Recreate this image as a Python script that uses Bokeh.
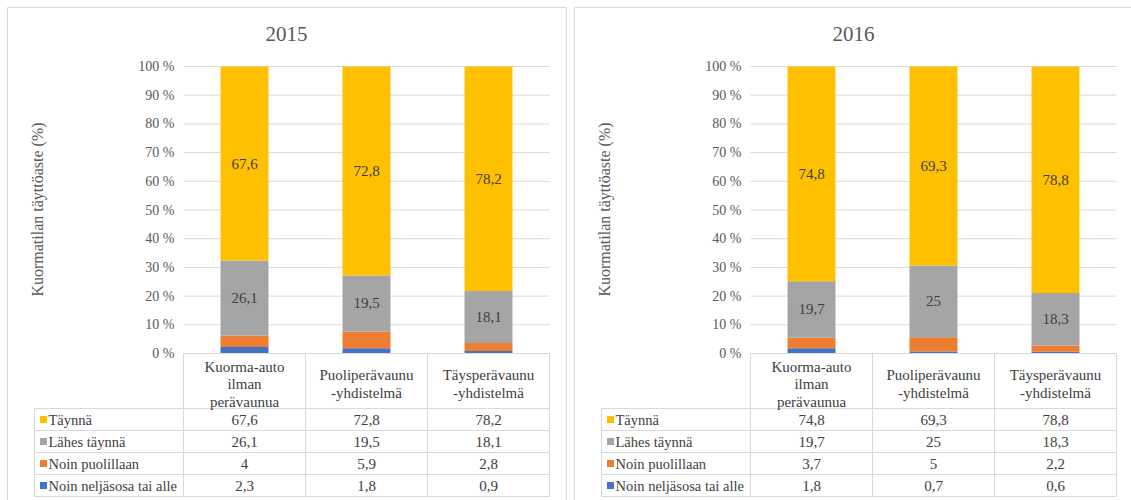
import math
from bokeh.plotting import figure
from bokeh.layouts import row
from bokeh.models import ColumnDataSource, Range1d
from bokeh.embed import file_html
from bokeh.resources import INLINE
from bokeh.core.properties import value

# ---- data ---------------------------------------------------------------
categories = ["Kuorma-auto\nilman\nperävaunua", "Puoliperävaunu\n-yhdistelmä", "Täysperävaunu\n-yhdistelmä"]
series_names = ["Täynnä", "Lähes täynnä", "Noin puolillaan", "Noin neljäsosa tai alle"]
series_colors = ["#FFC000", "#A5A5A5", "#ED7D31", "#4472C4"]
years = ["2015", "2016"]

full_2015 = [67.6, 72.8, 78.2]
nearly_2015 = [26.1, 19.5, 18.1]
half_2015 = [4, 5.9, 2.8]
quarter_2015 = [2.3, 1.8, 0.9]

full_2016 = [74.8, 69.3, 78.8]
nearly_2016 = [19.7, 25, 18.3]
half_2016 = [3.7, 5, 2.2]
quarter_2016 = [1.8, 0.7, 0.6]

y_ticks = [0, 10, 20, 30, 40, 50, 60, 70, 80, 90, 100]
y_tick_labels = [f"{t} %" for t in y_ticks]
y_title = "Kuormatilan täyttöaste (%)"

# ---- layout (pixels within one panel) -----------------------------------
FONT = value("'Liberation Serif', 'Times New Roman', serif")
GRID = "#D9D9D9"
TXT = "#404040"
AXT = "#595959"
H = 500
PLOT_L, PLOT_R = 183, 549
Y0_PX, Y100_PX = 353, 66
CAT_W = (PLOT_R - PLOT_L) / len(categories)
PER_PCT = (Y0_PX - Y100_PX) / 100.0
BAR_W = 0.393
TABLE_FS = "14.5px"


def xd(px):
    return (px - PLOT_L) / CAT_W


def yd(py):
    return (Y0_PX - py) / PER_PCT


def fmt(v):
    return f"{v:g}".replace(".", ",")


def panel(title, values, width):
    p = figure(width=width, height=H, x_range=Range1d(xd(0), xd(width)),
               y_range=Range1d(yd(H), yd(0)), toolbar_location=None,
               output_backend="svg", x_axis_location=None, y_axis_location=None,
               min_border=0, outline_line_color=None, background_fill_color="white")
    p.grid.visible = False

    # panel frame
    p.quad(left=[xd(7)], right=[xd(566)], top=[yd(7)], bottom=[yd(620)],
           fill_color=None, line_color=GRID, line_width=1)

    # horizontal gridlines
    p.segment(x0=[0] * len(y_ticks), x1=[len(categories)] * len(y_ticks),
              y0=y_ticks, y1=y_ticks, line_color=GRID, line_width=1)
    p.text(x=[xd(174)] * len(y_ticks), y=y_ticks, text=y_tick_labels,
           text_font=FONT, text_font_size="14px", text_color=AXT,
           text_align="right", text_baseline="middle")

    # stacked 100 % bars
    n = len(categories)
    totals = [sum(v[i] for v in values) for i in range(n)]
    xs = [i + 0.5 for i in range(n)]
    bottoms = [0.0] * n
    order = list(range(len(values)))[::-1]  # bottom series first
    for k in order:
        share = [values[k][i] / totals[i] * 100 for i in range(n)]
        tops = [bottoms[i] + share[i] for i in range(n)]
        src = ColumnDataSource(dict(x=xs, bottom=bottoms, top=tops))
        p.vbar(x="x", bottom="bottom", top="top", width=BAR_W, source=src,
               fill_color=series_colors[k], line_color=None)
        if k < 2:
            p.text(x=xs, y=[(bottoms[i] + tops[i]) / 2 for i in range(n)],
                   text=[fmt(v) for v in values[k]], text_font=FONT,
                   text_font_size="15px", text_color=TXT,
                   text_align="center", text_baseline="middle")
        bottoms = tops

    # title and axis title
    p.text(x=[xd(286)], y=[yd(33)], text=[title], text_font=FONT,
           text_font_size="21px", text_color=AXT, text_align="center",
           text_baseline="middle")
    p.text(x=[xd(37)], y=[yd(209)], text=[y_title], angle=math.pi / 2,
           text_font=FONT, text_font_size="16px", text_color=AXT,
           text_align="center", text_baseline="middle")

    # data table
    row_px = [408, 430, 452, 474, 496]
    p.segment(x0=[0], x1=[n], y0=[0], y1=[0], line_color=GRID, line_width=1)
    p.segment(x0=[xd(34)] * len(row_px), x1=[n] * len(row_px),
              y0=[yd(r) for r in row_px], y1=[yd(r) for r in row_px],
              line_color=GRID, line_width=1)
    p.segment(x0=list(range(n + 1)), x1=list(range(n + 1)),
              y0=[0] * (n + 1), y1=[yd(496)] * (n + 1),
              line_color=GRID, line_width=1)
    p.segment(x0=[xd(34)], x1=[xd(34)], y0=[yd(408)], y1=[yd(496)],
              line_color=GRID, line_width=1)

    hx, hy, ht = [], [], []
    for i, cat in enumerate(categories):
        lines = cat.split("\n")
        start = 383.5 - (len(lines) - 1) * 17.5 / 2
        for j, ln in enumerate(lines):
            hx.append(i + 0.5)
            hy.append(yd(start + j * 17.5))
            ht.append(ln)
    p.text(x=hx, y=hy, text=ht, text_font=FONT, text_font_size="15px",
           text_color=TXT, text_align="center", text_baseline="middle")

    row_mid = [(row_px[r] + row_px[r + 1]) / 2 for r in range(len(series_names))]
    p.scatter(x=[xd(43)] * len(series_names), y=[yd(m) for m in row_mid],
              marker="square", size=7, fill_color=series_colors, line_color=None)
    p.text(x=[xd(48)] * len(series_names), y=[yd(m) for m in row_mid],
           text=series_names, text_font=FONT, text_font_size=TABLE_FS,
           text_color=TXT, text_align="left", text_baseline="middle")
    vx, vy, vt = [], [], []
    for k, ser in enumerate(values):
        for i, v in enumerate(ser):
            vx.append(i + 0.5)
            vy.append(yd(row_mid[k]))
            vt.append(fmt(v))
    p.text(x=vx, y=vy, text=vt, text_font=FONT, text_font_size="15px",
           text_color=TXT, text_align="center", text_baseline="middle")
    return p


p1 = panel(years[0], [full_2015, nearly_2015, half_2015, quarter_2015], 567)
p2 = panel(years[1], [full_2016, nearly_2016, half_2016, quarter_2016], 564)
layout = row(p1, p2, spacing=0)

open("out.html", "w").write(file_html(layout, INLINE))
